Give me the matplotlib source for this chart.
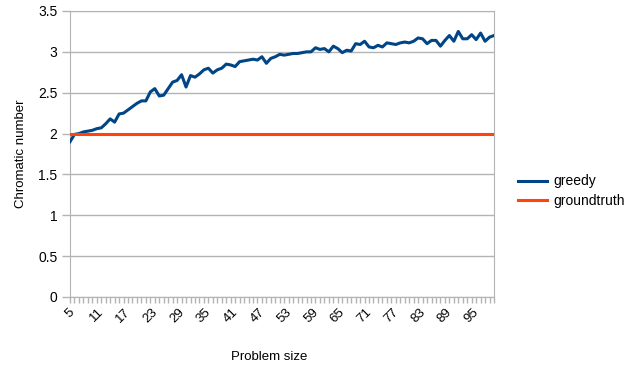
import numpy as np
import matplotlib
matplotlib.use("Agg")
import matplotlib.pyplot as plt

plt.rcParams['font.family'] = ['Liberation Sans', 'DejaVu Sans']

# problem sizes 5..100
problem_size = list(range(5, 101))

greedy = [1.90, 1.99, 2.00, 2.02, 2.03, 2.04, 2.06, 2.07, 2.12, 2.18,
          2.14, 2.24, 2.25, 2.29, 2.33, 2.37, 2.40, 2.40, 2.51, 2.55,
          2.46, 2.47, 2.55, 2.63, 2.65, 2.72, 2.57, 2.71, 2.69, 2.73,
          2.78, 2.80, 2.74, 2.78, 2.80, 2.85, 2.84, 2.82, 2.88, 2.89,
          2.90, 2.91, 2.90, 2.94, 2.86, 2.92, 2.94, 2.97, 2.96, 2.97,
          2.98, 2.98, 2.99, 3.00, 3.00, 3.05, 3.03, 3.04, 3.00, 3.07,
          3.04, 2.99, 3.02, 3.01, 3.10, 3.09, 3.13, 3.06, 3.05, 3.08,
          3.06, 3.11, 3.10, 3.09, 3.11, 3.12, 3.11, 3.13, 3.17, 3.16,
          3.10, 3.14, 3.14, 3.07, 3.14, 3.20, 3.13, 3.25, 3.16, 3.16,
          3.21, 3.15, 3.23, 3.13, 3.18, 3.20]

groundtruth = [2] * len(problem_size)

y_ticks = [0, 0.5, 1, 1.5, 2, 2.5, 3, 3.5]
y_tick_labels = ['0', '0.5', '1', '1.5', '2', '2.5', '3', '3.5']

grey = '#b3b3b3'

fig = plt.figure(figsize=(6.30, 3.67), dpi=100)
ax = fig.add_axes([70 / 630, 1 - 297 / 367, 424 / 630, 286 / 367])

x = np.arange(len(problem_size))
ax.plot(x, greedy, color='#004586', lw=2.2, label='greedy', zorder=3)
ax.plot(x, groundtruth, color='#ff420e', lw=2.2, label='groundtruth', zorder=3)

ax.set_xlim(0, len(problem_size) - 1)
ax.set_ylim(0, 3.5)

ax.set_yticks(y_ticks)
ax.set_yticklabels(y_tick_labels, fontsize=10)
ax.yaxis.grid(True, color=grey, lw=1)
ax.set_axisbelow(True)

ax.set_xticks(x)
ax.set_xticklabels([str(p) if (p - 5) % 6 == 0 else '' for p in problem_size],
                   rotation=45, ha='center', va='top', fontsize=9.5)

for s in ax.spines.values():
    s.set_color(grey)
ax.tick_params(axis='x', color=grey, length=4, width=1, direction='out', pad=2.5)
ax.tick_params(axis='y', color=grey, length=6, width=1, direction='out', pad=3)

ax.set_xlabel('Problem size', fontsize=9.5)
ax.xaxis.set_label_coords((269 - 70) / 424, -0.19)
ax.set_ylabel('Chromatic number', fontsize=9.5, labelpad=8)

fig.legend(loc='center left', bbox_to_anchor=(518 / 630, 1 - 191 / 367),
           frameon=False, fontsize=10, handlelength=2.1, handletextpad=0.45,
           labelspacing=0.37, borderpad=0, borderaxespad=0)

fig.savefig('out.png', dpi=100)
